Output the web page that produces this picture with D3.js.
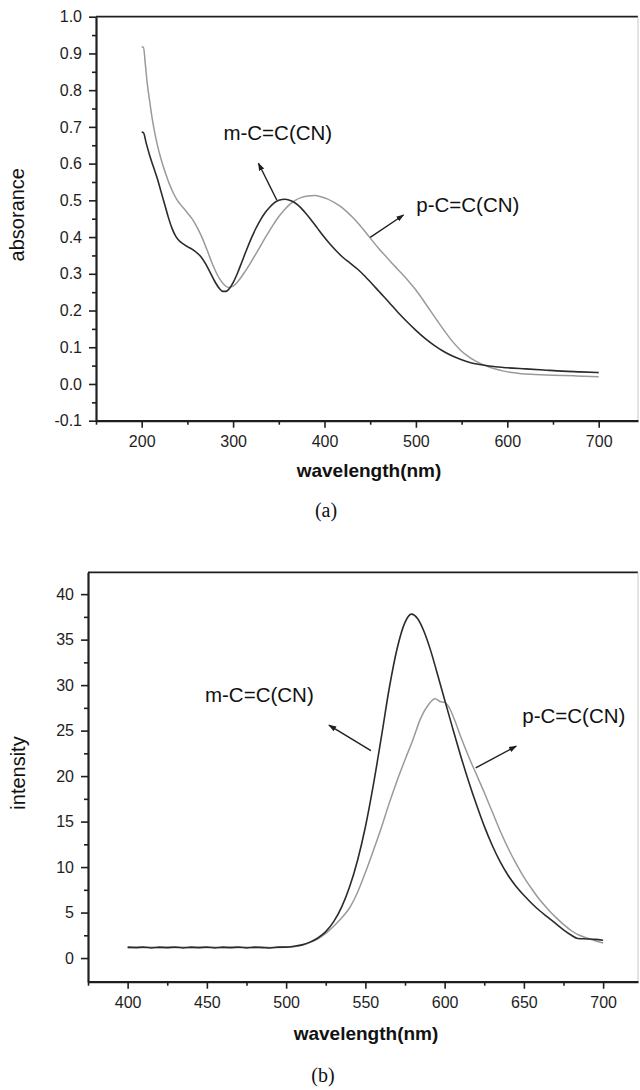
<!DOCTYPE html>
<html>
<head>
<meta charset="utf-8">
<script src="https://cdn.jsdelivr.net/npm/d3@7/dist/d3.min.js"></script>
<style>
  html, body { margin: 0; padding: 0; background: #fff; }
  svg { display: block; }
  .tick text { font-family: "Liberation Sans", Arial, sans-serif; font-size: 16px; fill: #1e1e1e; }
  .axis path, .axis line { stroke: #1e1e1e; }
</style>
</head>
<body>
<svg id="fig" width="640" height="1090"></svg>
<script>
// ---------- (a) absorption spectra ----------
const absTicksX = [200, 300, 400, 500, 600, 700];
const absMinorX = [150, 250, 350, 450, 550, 650];
const absTicksY = [-0.1, 0.0, 0.1, 0.2, 0.3, 0.4, 0.5, 0.6, 0.7, 0.8, 0.9, 1.0];
const absMinorY = [-0.05, 0.05, 0.15, 0.25, 0.35, 0.45, 0.55, 0.65, 0.75, 0.85, 0.95];

// m-C=C(CN): [wavelength nm, absorbance]
const absMeta = [
  [200, 0.686], [202, 0.684], [205, 0.655], [209, 0.62], [213, 0.59], [217, 0.56],
  [221, 0.525], [225, 0.49], [229, 0.455], [233, 0.425], [237, 0.403], [241, 0.39],
  [245, 0.382], [250, 0.374], [255, 0.367], [260, 0.358], [265, 0.346], [270, 0.327],
  [275, 0.303], [280, 0.279], [285, 0.26], [289, 0.252], [292, 0.252], [296, 0.26],
  [300, 0.276], [305, 0.303], [310, 0.335], [315, 0.367], [320, 0.397], [325, 0.424],
  [330, 0.447], [335, 0.466], [340, 0.481], [345, 0.493], [350, 0.5], [357, 0.503],
  [364, 0.498], [371, 0.487], [378, 0.469], [385, 0.448], [392, 0.425], [399, 0.402],
  [406, 0.381], [413, 0.362], [420, 0.345], [428, 0.329], [436, 0.313], [444, 0.294],
  [452, 0.273], [460, 0.251], [470, 0.224], [480, 0.196], [490, 0.17], [500, 0.146],
  [510, 0.124], [520, 0.105], [530, 0.089], [540, 0.076], [550, 0.066], [560, 0.058],
  [570, 0.053], [580, 0.049], [590, 0.046], [600, 0.044], [620, 0.041], [640, 0.038],
  [660, 0.035], [680, 0.033], [700, 0.031]
];

// p-C=C(CN): [wavelength nm, absorbance]
const absPara = [
  [200, 0.918], [202, 0.916], [204, 0.87], [206, 0.82], [209, 0.765], [212, 0.715],
  [215, 0.675], [219, 0.632], [223, 0.597], [227, 0.567], [231, 0.54], [235, 0.518],
  [239, 0.5], [243, 0.487], [247, 0.475], [251, 0.463], [255, 0.45], [259, 0.434],
  [263, 0.415], [267, 0.393], [271, 0.368], [275, 0.342], [279, 0.317], [283, 0.296],
  [287, 0.28], [291, 0.268], [295, 0.263], [299, 0.265], [303, 0.273], [308, 0.288],
  [313, 0.306], [318, 0.325], [323, 0.346], [328, 0.367], [333, 0.389], [338, 0.41],
  [344, 0.434], [350, 0.456], [356, 0.474], [362, 0.489], [368, 0.5], [375, 0.508],
  [382, 0.512], [389, 0.513], [396, 0.51], [403, 0.504], [410, 0.495], [417, 0.484],
  [424, 0.47], [431, 0.453], [438, 0.434], [445, 0.413], [452, 0.391], [460, 0.367],
  [468, 0.345], [476, 0.323], [484, 0.302], [492, 0.28], [500, 0.256], [508, 0.228],
  [516, 0.199], [524, 0.17], [532, 0.142], [540, 0.116], [548, 0.094], [556, 0.077],
  [564, 0.064], [572, 0.054], [580, 0.046], [588, 0.04], [596, 0.035], [605, 0.031],
  [615, 0.028], [630, 0.026], [650, 0.024], [675, 0.022], [700, 0.02]
];

// ---------- (b) emission spectra ----------
const emTicksX = [400, 450, 500, 550, 600, 650, 700];
const emMinorX = [375, 425, 475, 525, 575, 625, 675];
const emTicksY = [0, 5, 10, 15, 20, 25, 30, 35, 40];
const emMinorY = [2.5, 7.5, 12.5, 17.5, 22.5, 27.5, 32.5, 37.5];

// m-C=C(CN): [wavelength nm, intensity]
const emMeta = [
  [400, 1.2], [405, 1.15], [410, 1.2], [415, 1.1], [420, 1.2], [425, 1.15], [430, 1.2],
  [435, 1.1], [440, 1.2], [445, 1.15], [450, 1.2], [455, 1.1], [460, 1.2], [465, 1.15],
  [470, 1.2], [475, 1.1], [480, 1.2], [485, 1.15], [490, 1.1], [495, 1.2], [500, 1.2],
  [505, 1.3], [510, 1.45], [515, 1.75], [520, 2.2], [525, 2.9], [530, 4.0], [535, 5.6],
  [540, 7.8], [545, 10.7], [550, 14.4], [555, 19.0], [560, 24.2], [565, 29.6],
  [570, 34.0], [575, 36.9], [579, 37.8], [583, 37.3], [587, 35.9], [591, 33.9],
  [595, 31.5], [600, 28.4], [605, 25.3], [610, 22.3], [615, 19.5], [620, 16.9],
  [625, 14.5], [630, 12.4], [635, 10.6], [640, 9.1], [645, 7.9], [650, 6.9],
  [655, 6.0], [660, 5.2], [665, 4.5], [670, 3.8], [675, 3.1], [680, 2.5], [684, 2.15],
  [690, 2.1], [695, 2.05], [700, 1.95]
];

// p-C=C(CN): [wavelength nm, intensity]
const emPara = [
  [400, 1.1], [405, 1.2], [410, 1.15], [415, 1.2], [420, 1.1], [425, 1.2], [430, 1.15],
  [435, 1.2], [440, 1.1], [445, 1.2], [450, 1.15], [455, 1.2], [460, 1.1], [465, 1.2],
  [470, 1.15], [475, 1.2], [480, 1.1], [485, 1.2], [490, 1.15], [495, 1.15], [500, 1.2],
  [505, 1.25], [510, 1.4], [515, 1.7], [520, 2.1], [525, 2.7], [530, 3.5], [535, 4.4],
  [540, 5.5], [545, 7.2], [550, 9.4], [555, 11.8], [560, 14.3], [565, 17.0],
  [570, 19.5], [575, 21.8], [580, 24.0], [585, 26.4], [590, 27.9], [594, 28.5],
  [597, 28.2], [600, 28.1], [603, 27.5], [606, 26.3], [610, 24.4], [615, 22.2],
  [620, 20.2], [625, 18.2], [630, 16.1], [635, 14.0], [640, 12.1], [645, 10.4],
  [650, 8.9], [655, 7.6], [660, 6.4], [665, 5.4], [670, 4.5], [675, 3.7], [680, 3.0],
  [685, 2.5], [690, 2.2], [695, 1.9], [700, 1.65]
];

const labelM = "m-C=C(CN)";
const labelP = "p-C=C(CN)";

const svg = d3.select("#fig");
const INK = "#1e1e1e";
const DARK = "#2b2b2b";
const GREY = "#9a9a9a";

svg.append("defs").append("marker")
  .attr("id", "head")
  .attr("viewBox", "0 0 10 10")
  .attr("refX", 9).attr("refY", 5)
  .attr("markerWidth", 8).attr("markerHeight", 8)
  .attr("markerUnits", "userSpaceOnUse")
  .attr("orient", "auto")
  .append("path").attr("d", "M0,1.5 L10,5 L0,8.5 Z").attr("fill", INK);

// plain hyphen for negative tick values
const hyphen = f => d => f(d).replace("\u2212", "-");

function panel(cfg) {
  const x = d3.scaleLinear().domain(cfg.xDomain).range([cfg.left, cfg.right]);
  const y = d3.scaleLinear().domain(cfg.yDomain).range([cfg.bottom, cfg.top]);
  const g = svg.append("g");

  // frame: top dark, right light
  g.append("line").attr("x1", cfg.left).attr("x2", cfg.right)
    .attr("y1", cfg.top).attr("y2", cfg.top)
    .attr("stroke", INK).attr("stroke-width", 1.8);
  g.append("line").attr("x1", cfg.right).attr("x2", cfg.right)
    .attr("y1", cfg.top).attr("y2", cfg.bottom)
    .attr("stroke", "#c8c8c8").attr("stroke-width", 1);

  // bottom axis
  g.append("g").attr("class", "axis")
    .attr("transform", `translate(0,${cfg.bottom})`)
    .call(d3.axisBottom(x).tickValues(cfg.minorX).tickSize(4).tickSizeOuter(0).tickFormat(""))
    .call(s => s.select(".domain").remove())
    .selectAll("line").attr("stroke-width", 1.6);
  g.append("g").attr("class", "axis")
    .attr("transform", `translate(0,${cfg.bottom})`)
    .call(d3.axisBottom(x).tickValues(cfg.ticksX).tickSize(7).tickPadding(8).tickSizeOuter(0)
      .tickFormat(d3.format("d")))
    .call(s => s.select(".domain").attr("stroke-width", 2.2))
    .selectAll("line").attr("stroke-width", 1.6);

  // left axis
  g.append("g").attr("class", "axis")
    .attr("transform", `translate(${cfg.left},0)`)
    .call(d3.axisLeft(y).tickValues(cfg.minorY).tickSize(4).tickSizeOuter(0).tickFormat(""))
    .call(s => s.select(".domain").remove())
    .selectAll("line").attr("stroke-width", 1.6);
  g.append("g").attr("class", "axis")
    .attr("transform", `translate(${cfg.left},0)`)
    .call(d3.axisLeft(y).tickValues(cfg.ticksY).tickSize(7).tickPadding(7).tickSizeOuter(0)
      .tickFormat(hyphen(cfg.yFormat)))
    .call(s => s.select(".domain").attr("stroke-width", 2.2))
    .selectAll("line").attr("stroke-width", 1.6);

  // curves
  const line = d3.line().x(d => x(d[0])).y(d => y(d[1])).curve(d3.curveMonotoneX);
  g.append("path").datum(cfg.seriesP).attr("d", line)
    .attr("fill", "none").attr("stroke", GREY).attr("stroke-width", 1.5);
  g.append("path").datum(cfg.seriesM).attr("d", line)
    .attr("fill", "none").attr("stroke", DARK).attr("stroke-width", 1.6);

  // annotations
  cfg.notes.forEach(n => {
    g.append("line")
      .attr("x1", x(n.from[0])).attr("y1", y(n.from[1]))
      .attr("x2", x(n.to[0])).attr("y2", y(n.to[1]))
      .attr("stroke", INK).attr("stroke-width", 1.4)
      .attr("marker-end", "url(#head)");
    g.append("text")
      .attr("x", x(n.at[0])).attr("y", y(n.at[1]))
      .attr("font-family", "Liberation Sans, Arial, sans-serif")
      .attr("font-size", 20.5).attr("fill", "#111")
      .text(n.text);
  });

  // axis titles
  g.append("text")
    .attr("transform", `translate(${cfg.yTitleX},${(cfg.top + cfg.bottom) / 2 - 4}) rotate(-90)`)
    .attr("text-anchor", "middle")
    .attr("font-family", "Liberation Sans, Arial, sans-serif")
    .attr("font-size", 20).attr("fill", "#111")
    .text(cfg.yTitle);
  g.append("text")
    .attr("x", cfg.xTitleX).attr("y", cfg.xTitleY)
    .attr("text-anchor", "middle")
    .attr("font-family", "Liberation Sans, Arial, sans-serif")
    .attr("font-weight", "bold")
    .attr("font-size", 19).attr("fill", "#111")
    .text("wavelength(nm)");
  g.append("text")
    .attr("x", cfg.xTitleX - 43).attr("y", cfg.capY)
    .attr("text-anchor", "middle")
    .attr("font-family", "Liberation Serif, 'Times New Roman', serif")
    .attr("font-size", 20).attr("fill", "#111")
    .text(cfg.caption);
}

panel({
  xDomain: [150, 743], yDomain: [-0.1, 1.0],
  left: 96, right: 638, top: 16.7, bottom: 420.7,
  ticksX: absTicksX, minorX: absMinorX, ticksY: absTicksY, minorY: absMinorY,
  yFormat: d3.format(".1f"),
  seriesM: absMeta, seriesP: absPara,
  notes: [
    { from: [347.8, 0.501], to: [327.7, 0.601], at: [289.4, 0.663], text: labelM },
    { from: [450, 0.399], to: [486.5, 0.46], at: [500.4, 0.468], text: labelP }
  ],
  yTitle: "absorance", yTitleX: 24,
  xTitleX: 369, xTitleY: 477,
  caption: "(a)", capY: 517
});

panel({
  xDomain: [375, 722], yDomain: [-2.6, 42.4],
  left: 88, right: 638, top: 572.3, bottom: 981.7,
  ticksX: emTicksX, minorX: emMinorX, ticksY: emTicksY, minorY: emMinorY,
  yFormat: d3.format("d"),
  seriesM: emMeta, seriesP: emPara,
  notes: [
    { from: [553.5, 22.8], to: [527, 25.6], at: [448.8, 28.1], text: labelM },
    { from: [619.6, 20.9], to: [645.2, 23.3], at: [649, 25.8], text: labelP }
  ],
  yTitle: "intensity", yTitleX: 25,
  xTitleX: 366, xTitleY: 1040,
  caption: "(b)", capY: 1082
});
</script>
</body>
</html>
